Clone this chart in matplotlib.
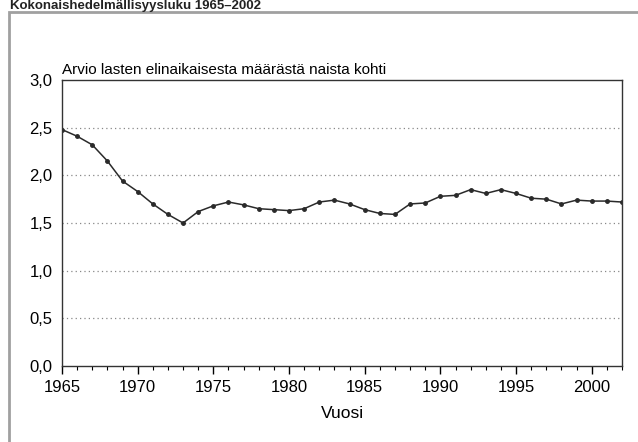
import matplotlib
matplotlib.use("Agg")
import matplotlib.pyplot as plt
from matplotlib.patches import Rectangle
from matplotlib.ticker import FuncFormatter, MultipleLocator

# total fertility rate, Finland
years = list(range(1965, 2003))
tfr = [2.48, 2.41, 2.32, 2.15, 1.94, 1.83, 1.70, 1.59, 1.50, 1.62,
       1.68, 1.72, 1.69, 1.65, 1.64, 1.63, 1.65, 1.72, 1.74, 1.70,
       1.64, 1.60, 1.59, 1.70, 1.71, 1.78, 1.79, 1.85, 1.81, 1.85,
       1.81, 1.76, 1.75, 1.70, 1.74, 1.73, 1.73, 1.72]
title = "Kokonaishedelmällisyysluku 1965–2002"
note = "Arvio lasten elinaikaisesta määrästä naista kohti"
xlabel = "Vuosi"

plt.rcParams["font.family"] = ["Liberation Sans", "DejaVu Sans"]

W, H = 638, 442
fig = plt.figure(figsize=(W / 100, H / 100), dpi=100)
ax = fig.add_axes([62 / W, 1 - 366 / H, (622 - 62) / W, (366 - 80) / H])

# outer frame and title squeezed above it
fig.patches.append(Rectangle((9 / W, -0.01), 1.0, 1 - 12 / H + 0.01,
                             transform=fig.transFigure, fill=False,
                             edgecolor="#a0a0a0", lw=2))
fig.text(10 / W, 1 - 9.5 / H, title, fontsize=9.5, fontweight="bold",
         ha="left", va="baseline", color="#222222")

ax.plot(years, tfr, "-o", color="#2a2a2a", lw=1.1, ms=2.5)

ax.set_xlim(1965, 2002)
ax.set_ylim(0, 3.0)
ax.xaxis.set_major_locator(MultipleLocator(5))
ax.xaxis.set_minor_locator(MultipleLocator(1))
ax.yaxis.set_major_locator(MultipleLocator(0.5))
ax.yaxis.set_major_formatter(FuncFormatter(lambda v, p: f"{v:.1f}".replace(".", ",")))
ax.tick_params(axis="x", which="major", direction="out", length=6, width=1, labelsize=12, pad=4)
ax.tick_params(axis="x", which="minor", direction="out", length=3, width=0.8)
ax.tick_params(axis="y", length=0, labelsize=12, pad=7)

for v in [0.5, 1.0, 1.5, 2.0, 2.5]:
    ax.axhline(v, color="#888888", lw=0.9, ls=(0, (1, 2.5)), zorder=0)

for s in ax.spines.values():
    s.set_color("#333333")
    s.set_linewidth(1)

ax.set_xlabel(xlabel, fontsize=12.5, labelpad=8)
ax.text(0, 1.012, note, transform=ax.transAxes, fontsize=11, ha="left", va="bottom")

fig.savefig("out.png", dpi=100)
